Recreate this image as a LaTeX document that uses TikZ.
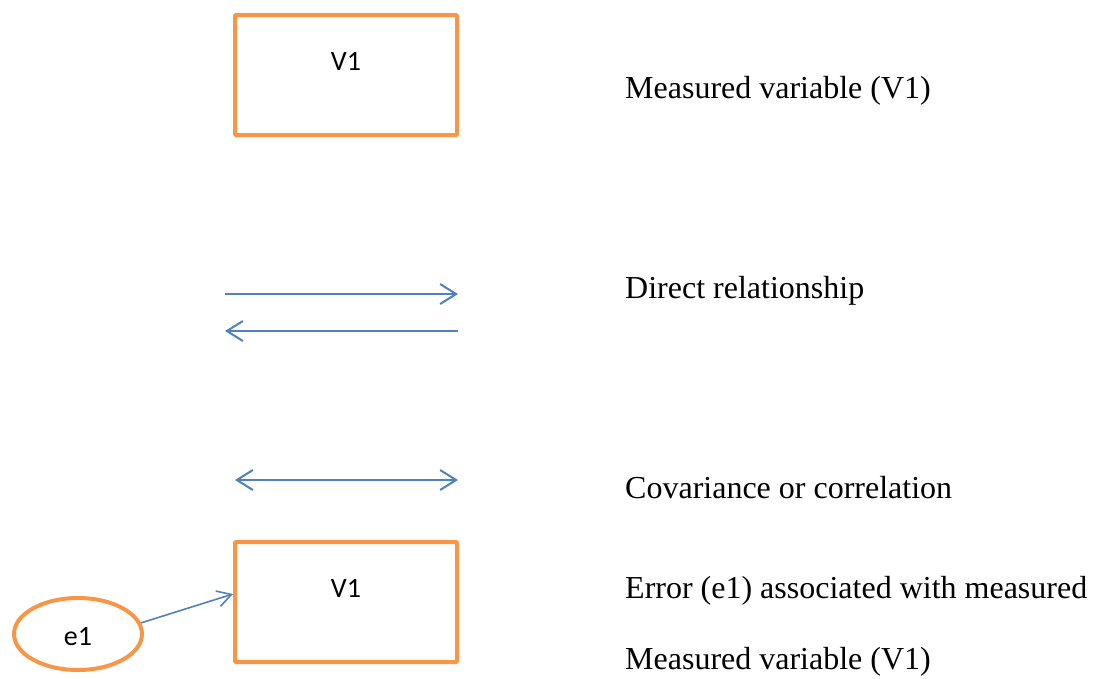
\documentclass[tikz,border=0pt]{standalone}
\usepackage{fontspec}
\setmainfont{Liberation Serif}
\newfontfamily\calib{Carlito}
\usetikzlibrary{arrows.meta,shapes.geometric}
\definecolor{boxorange}{HTML}{F79646}
\definecolor{lineblue}{HTML}{4F81BD}
\tikzset{
  varbox/.style={draw=boxorange, line width=4pt, rounded corners=1pt, minimum width=222pt, minimum height=120pt, inner sep=0pt},
  errell/.style={ellipse, draw=boxorange, line width=4pt, minimum width=128pt, minimum height=72pt, inner sep=0pt},
  boxtext/.style={font=\calib\fontsize{28}{32}\selectfont, anchor=base, inner sep=0pt},
  legtext/.style={font=\fontsize{32}{38}\selectfont, anchor=base west, inner sep=0pt},
  conn/.style={draw=lineblue, line width=2pt, -{Straight Barb[length=16pt,width=20pt,line width=2pt]}},
  conn2/.style={draw=lineblue, line width=2pt, {Straight Barb[length=16pt,width=20pt,line width=2pt]}-{Straight Barb[length=16pt,width=20pt,line width=2pt]}},
  connthin/.style={draw=lineblue, line width=1.6pt, -{Straight Barb[length=14pt,width=16pt,line width=1.6pt]}}
}
\begin{document}
\begin{tikzpicture}[x=1pt,y=-1pt]
\useasboundingbox (0,0) rectangle (1093,678);
% top box
\node[varbox] (v1a) at (346,75) {};
\node[boxtext] (v1at) at (346,70) {V1};
% direct arrows
\coordinate (d1s) at (225,294);
\coordinate (d1e) at (458,294);
\coordinate (d2s) at (458,331);
\coordinate (d2e) at (225,331);
\draw[conn] (d1s) -- (d1e);
\draw[conn] (d2s) -- (d2e);
% covariance arrow
\coordinate (c1) at (235,480);
\coordinate (c2) at (458,480);
\draw[conn2] (c1) -- (c2);
% bottom box and error
\node[varbox] (v1b) at (346,602) {};
\node[boxtext] (v1bt) at (346,597) {V1};
\node[errell] (e1) at (78,634) {};
\node[boxtext] (e1t) at (78,645) {e1};
\draw[connthin] (e1.10) -- ([yshift=8pt]v1b.west);
% legend texts
\node[legtext] (l1) at (625,98) {Measured variable (V1)};
\node[legtext] (l2) at (625,298) {Direct relationship};
\node[legtext] (l3) at (625,498) {Covariance or correlation};
\node[legtext] (l4) at (625,598) {Error (e1) associated with measured};
\node[legtext] (l5) at (625,669) {Measured variable (V1)};
\end{tikzpicture}
\end{document}
